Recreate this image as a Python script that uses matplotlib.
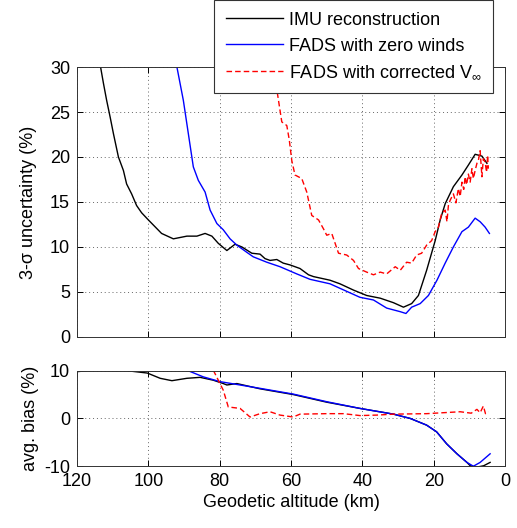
import matplotlib
matplotlib.use("Agg")
import matplotlib.pyplot as plt
from matplotlib.lines import Line2D

plt.rcParams['font.family'] = ['Liberation Sans', 'DejaVu Sans']
plt.rcParams['mathtext.fontset'] = 'custom'
plt.rcParams['mathtext.rm'] = 'Liberation Sans'
plt.rcParams['mathtext.it'] = 'Liberation Sans:italic'
plt.rcParams['axes.unicode_minus'] = False

# ---------------- data: top panel (3-sigma uncertainty, %) ----------------
imu_unc_alt = [113.4, 112.6, 111.7, 110.7, 109.8, 108.4, 107.0, 106.1, 104.7, 103.3, 101.9,
               100.0, 96.3, 93.0, 89.2, 86.4, 84.1, 82.2,
               80.4, 78.0, 75.7, 73.8, 71.0, 68.7, 67.3, 65.9, 64.0, 62.2, 60.3, 57.5, 55.1,
               53.7, 49.1, 46.3, 42.5, 38.8, 35.0, 31.3, 28.5, 26.2, 24.3, 22.0, 19.6, 18.2,
               16.8, 14.5, 12.1, 10.3, 8.4, 6.5, 5.1]
imu_unc_val = [30.0, 28.2, 26.3, 24.4, 22.6, 20.0, 18.5, 17.0, 15.9, 14.6, 13.8,
               13.0, 11.5, 10.9, 11.2, 11.2, 11.5, 11.2,
               10.4, 9.6, 10.3, 10.0, 9.3, 9.2, 8.7, 8.5, 8.6, 8.2, 8.0, 7.6, 6.9,
               6.7, 6.3, 5.9, 5.2, 4.6, 4.3, 3.8, 3.3, 3.7, 4.6, 7.4, 10.7, 13.0,
               14.8, 16.7, 18.0, 19.1, 20.3, 20.1, 19.3]

fads_unc_alt = [92.0, 90.2, 88.8, 87.4, 86.0, 84.1, 82.7, 80.8, 79.0, 77.1, 75.2, 72.4,
                70.6, 66.8, 63.1, 58.4, 54.7, 49.1, 46.3, 40.7, 36.9, 33.2, 29.4, 27.8,
                26.2, 23.8, 21.5, 19.1, 16.8, 14.5, 12.1, 10.3, 8.4, 7.0, 5.6, 4.4]
fads_unc_val = [30.0, 26.3, 22.6, 18.9, 17.4, 16.1, 14.1, 12.6, 11.9, 10.9, 10.2, 9.4,
                8.9, 8.3, 7.8, 7.0, 6.4, 5.9, 5.4, 4.4, 4.1, 3.2, 2.8, 2.6,
                3.3, 3.7, 4.6, 6.3, 8.2, 10.0, 11.7, 12.2, 13.2, 12.8, 12.2, 11.5]

corr_unc_alt = [64.6, 63.8, 62.6, 61.2, 60.5, 59.8, 58.9, 57.0, 55.6, 54.2, 52.3, 50.9,
                50.0, 48.6, 46.7, 44.4, 42.5, 41.1, 38.8, 36.9, 35.0, 33.2, 30.8, 29.4,
                27.6, 26.2, 24.8, 23.4, 22.0, 20.6, 19.6, 18.7, 17.8, 16.8, 16.3, 15.9,
                15.4, 14.5, 13.8, 13.1, 12.6, 12.1, 11.6, 11.2, 10.8, 10.3, 9.8, 9.3,
                8.9, 8.4, 7.9, 7.5, 7.0, 6.5, 6.1, 5.6, 5.2, 4.9, 4.7]
corr_unc_val = [31.0, 27.0, 23.9, 23.5, 21.9, 19.6, 18.0, 17.6, 16.1, 13.5, 13.0, 12.0,
                11.3, 11.5, 9.3, 9.1, 8.5, 7.6, 7.2, 6.9, 7.2, 7.0, 7.8, 7.4,
                8.3, 8.2, 9.1, 9.3, 10.2, 10.7, 11.7, 12.2, 13.7, 14.1, 12.8, 14.6,
                15.2, 15.9, 14.9, 16.5, 15.6, 17.2, 16.4, 17.8, 16.9, 18.1, 17.2, 18.7,
                17.6, 18.5, 19.3, 19.6, 20.7, 17.8, 19.8, 19.4, 18.3, 20.2, 18.7]

# ---------------- data: bottom panel (average bias, %) ----------------
imu_bias_alt = [119.9, 115.4, 106.1, 100.3, 96.7, 93.4, 89.2, 85.5, 81.8, 79.0, 78.0, 75.2,
                68.7, 59.4, 50.0, 40.7, 31.3, 26.6, 22.0, 19.2, 16.4, 13.5, 10.7, 9.8, 8.0,
                6.0, 4.2]
imu_bias_val = [9.8, 10.1, 10.0, 9.5, 8.4, 7.9, 8.4, 8.6, 8.0, 7.3, 7.0, 7.3,
                6.2, 5.0, 3.4, 2.1, 0.9, 0.0, -1.4, -2.8, -5.3, -7.4, -9.2, -9.9, -10.2,
                -9.9, -9.2]

fads_bias_alt = [90.2, 84.6, 79.9, 68.7, 59.4, 50.0, 40.7, 31.3, 26.6, 22.0, 19.2, 16.4,
                 13.5, 10.7, 8.9, 7.0, 4.2]
fads_bias_val = [10.4, 8.7, 7.7, 6.3, 5.1, 3.5, 2.1, 0.9, 0.0, -1.4, -2.8, -5.3,
                 -7.4, -9.2, -10.0, -9.2, -7.4]

corr_bias_alt = [81.8, 79.0, 77.6, 74.3, 71.5, 68.7, 65.9, 63.1, 59.4, 57.5, 50.0, 45.3,
                 40.7, 36.0, 31.3, 22.0, 12.6, 9.5, 7.9, 7.0, 6.1, 5.5, 4.7]
corr_bias_val = [10.1, 5.9, 2.4, 2.1, 0.3, 1.0, 1.4, 0.7, 0.3, 0.9, 1.0, 1.0,
                 0.6, 0.7, 0.9, 1.0, 1.4, 1.1, 1.9, 1.2, 2.6, 1.0, 1.4]

legend_labels = ['IMU reconstruction', 'FADS with zero winds',
                 r'FADS with corrected V$_{\infty}$']
x_ticks = [120, 100, 80, 60, 40, 20, 0]
top_yticks = [0, 5, 10, 15, 20, 25, 30]
bot_yticks = [-10, 0, 10]

# ---------------- figure ----------------
fig = plt.figure(figsize=(5.17, 5.28), dpi=100)
ax1 = fig.add_axes([0.149, 0.362, 0.828, 0.511])
ax2 = fig.add_axes([0.149, 0.117, 0.828, 0.181])

lw = 1.0
red_dash = (0, (4, 2.2))
for ax in (ax1, ax2):
    ax.set_xlim(120, 0)
    ax.set_xticks(x_ticks)
    ax.grid(True, color='#666666', linestyle=(0, (1, 3)), linewidth=0.7)
    ax.tick_params(direction='in', length=4, width=0.7, labelsize=13,
                   top=True, right=True, pad=5)
    for s in ax.spines.values():
        s.set_linewidth(0.7)
        s.set_color('#333333')

ax1.plot(imu_unc_alt, imu_unc_val, color='black', lw=lw)
ax1.plot(fads_unc_alt, fads_unc_val, color='blue', lw=lw)
ax1.plot(corr_unc_alt, corr_unc_val, color='red', lw=lw, linestyle=red_dash)
ax1.set_ylim(0, 30)
ax1.set_yticks(top_yticks)
ax1.tick_params(labelbottom=False)
ax1.set_ylabel('3-σ uncertainty (%)', fontsize=13, labelpad=9)

ax2.plot(imu_bias_alt, imu_bias_val, color='black', lw=lw)
ax2.plot(fads_bias_alt, fads_bias_val, color='blue', lw=lw)
ax2.plot(corr_bias_alt, corr_bias_val, color='red', lw=lw, linestyle=red_dash)
ax2.set_ylim(-10, 10)
ax2.set_yticks(bot_yticks)
ax2.set_ylabel('avg. bias (%)', fontsize=13, labelpad=4)
ax2.set_xlabel('Geodetic altitude (km)', fontsize=13, labelpad=3)
ax2.set_xticklabels([str(t) for t in x_ticks])

handles = [Line2D([], [], color='black', lw=lw),
           Line2D([], [], color='blue', lw=lw),
           Line2D([], [], color='red', lw=lw, linestyle=red_dash)]
leg = fig.legend(handles, legend_labels, loc='upper right',
                 bbox_to_anchor=(0.954, 1.0), borderaxespad=0, fontsize=13,
                 handlelength=3.2, handletextpad=0.3, labelspacing=0.5,
                 borderpad=0.65, fancybox=False, framealpha=1, edgecolor='#333333')
leg.get_frame().set_linewidth(0.8)
leg.set_zorder(10)

fig.savefig('out.png', dpi=100)
